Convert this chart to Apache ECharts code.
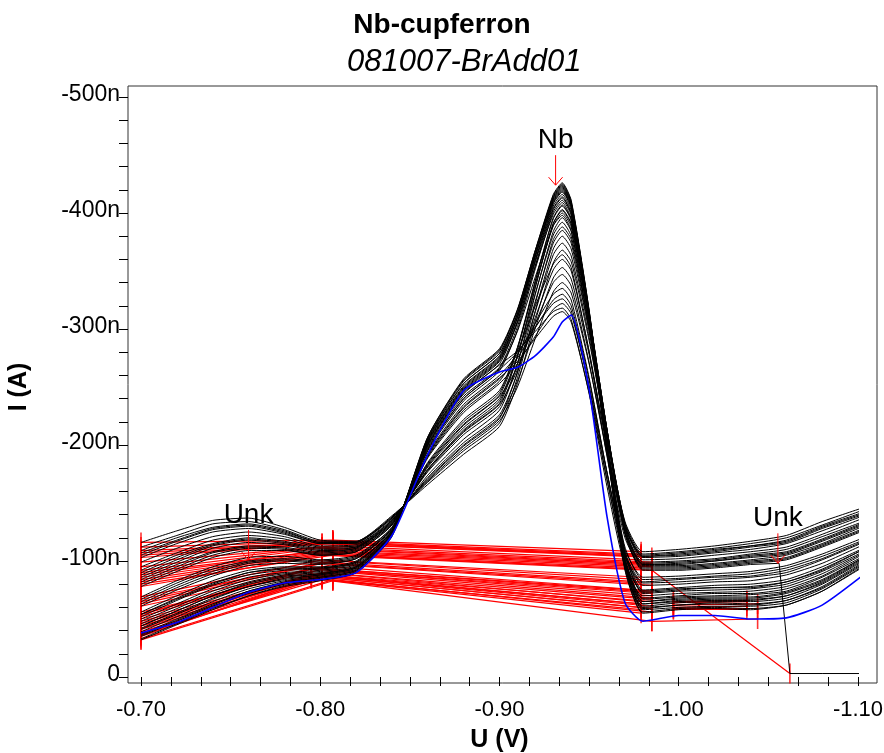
<!DOCTYPE html>
<html><head><meta charset="utf-8">
<script src="https://cdn.jsdelivr.net/npm/echarts@6/dist/echarts.min.js"></script>
<style>html,body{margin:0;padding:0;background:#fff}#c{width:884px;height:753px}</style>
</head><body><div id="c"></div>
<script>
// Potential grid (V)
const U = [-0.700,-0.720,-0.740,-0.760,-0.780,-0.800,-0.820,-0.840,-0.860,-0.880,-0.900,-0.910,-0.920,-0.930,-0.935,-0.940,-0.950,-0.960,-0.970,-0.980,-1.000,-1.020,-1.040,-1.060,-1.080,-1.103];
// Currents (nA) for each scan
const curve01 = [-35,-48,-61,-72,-80,-85,-91,-122,-206,-255,-281,-316,-368,-416,-426,-411,-316,-198,-95,-58,-60,-61,-61,-64,-76,-97];
const curve02 = [-39,-52,-65,-76,-83,-87,-93,-123,-204,-251,-277,-313,-366,-415,-425,-410,-316,-199,-97,-61,-64,-65,-65,-68,-80,-100];
const curve03 = [-32,-45,-58,-70,-78,-83,-90,-121,-207,-257,-283,-317,-368,-414,-424,-409,-313,-195,-92,-55,-58,-59,-58,-62,-74,-95];
const curve04 = [-44,-57,-70,-80,-86,-89,-95,-124,-202,-248,-274,-310,-363,-412,-422,-408,-315,-201,-101,-65,-67,-68,-68,-72,-83,-103];
const curve05 = [-37,-50,-63,-74,-82,-86,-92,-122,-205,-253,-279,-313,-364,-410,-420,-406,-312,-197,-96,-60,-62,-64,-63,-66,-78,-99];
const curve06 = [-48,-61,-74,-84,-89,-91,-96,-125,-200,-245,-270,-306,-359,-408,-418,-404,-313,-201,-103,-68,-70,-72,-72,-76,-87,-106];
const curve07 = [-41,-54,-67,-78,-84,-88,-94,-123,-203,-250,-276,-310,-360,-406,-416,-402,-310,-197,-98,-63,-65,-66,-66,-70,-81,-101];
const curve08 = [-52,-66,-79,-88,-92,-93,-98,-126,-198,-242,-267,-302,-355,-403,-413,-399,-311,-202,-106,-72,-74,-75,-76,-80,-91,-108];
const curve09 = [-56,-70,-83,-92,-95,-95,-100,-126,-195,-238,-264,-299,-352,-401,-411,-398,-310,-203,-109,-75,-77,-79,-80,-84,-95,-111];
const curve10 = [-46,-59,-72,-82,-88,-90,-95,-124,-200,-246,-272,-305,-354,-399,-409,-395,-306,-197,-101,-67,-69,-70,-71,-74,-86,-104];
const curve11 = [-82,-95,-107,-112,-111,-106,-109,-132,-183,-218,-243,-282,-341,-395,-406,-394,-312,-213,-125,-94,-94,-96,-99,-102,-113,-127];
const curve12 = [-90,-103,-114,-119,-116,-110,-112,-134,-179,-212,-236,-276,-336,-391,-403,-391,-311,-213,-128,-97,-98,-100,-104,-107,-118,-132];
const curve13 = [-78,-91,-103,-109,-109,-105,-108,-131,-185,-222,-247,-284,-339,-389,-400,-388,-308,-209,-123,-92,-92,-94,-97,null,null,null];
const curve14 = [-99,-111,-121,-125,-121,-113,-114,-135,-174,-205,-230,-270,-330,-384,-396,-384,-308,-213,-131,-101,-102,-105,-108,-112,-123,-137];
const curve15 = [-86,-99,-111,-116,-114,-108,-111,-133,-181,-215,-240,-277,-331,-381,-392,-380,-303,-208,-126,-96,-96,-98,-101,-105,-115,-130];
const curve16 = [-107,-118,-128,-131,-125,-116,-116,-137,-170,-199,-223,-263,-322,-377,-388,-377,-303,-212,-132,-104,-106,-109,-113,-117,-129,-141];
const curve17 = [-95,-107,-118,-122,-119,-112,-113,-135,-177,-209,-233,-270,-324,-374,-385,-374,-299,-208,-128,-99,-100,-102,-106,-110,-121,-134];
const curve18 = [-112,-122,-132,-134,-127,-117,-117,-138,-168,-195,-219,-258,-316,-369,-380,-369,-298,-210,-133,-106,-108,-111,-115,-120,-131,-144];
const curve19 = [-103,-115,-125,-128,-123,-115,-115,-136,-172,-202,-226,-262,-315,-364,-374,-363,-293,-206,-130,-103,-104,-107,-110,-115,-126,-139];
const curve20 = [-116,-126,-135,-137,-129,-118,-117,-139,-166,-192,-216,-253,-307,-357,-368,-358,-290,-207,-134,-108,-110,-113,-117,-122,-134,-146];
const curve21 = [-92,-105,-115,-120,-117,-111,-112,-134,-178,-211,-235,-265,-310,-351,-360,-350,-281,-198,-124,-98,-99,-101,-105,-108,-119,-133];
const curve22 = [-105,-117,-127,-130,-124,-115,-116,-137,-171,-200,-224,-255,-301,-344,-353,-343,-278,-199,-129,-104,-105,-108,-112,-116,-128,-140];
const curve23 = [-84,-97,-108,-113,-112,-107,-110,-132,-182,-217,-242,-267,-305,-340,-347,-337,-271,-191,-120,-95,-95,-97,-100,-103,-114,-128];
const curve24 = [-109,-120,-129,-132,-126,-116,-116,-138,-169,-197,-221,-250,-292,-332,-340,-331,-270,-194,-129,-105,-107,-110,-113,-118,-130,-142];
const curve25 = [-61,-75,-87,-96,-98,-97,-102,-127,-193,-235,-260,-278,-305,-330,-335,-325,-258,-176,-105,-79,-80,-82,-83,-88,-98,-114];
const curve26 = [-65,-79,-91,-99,-101,-99,-103,-128,-191,-232,-257,-275,-301,-325,-330,-320,-256,-176,-107,-82,-84,-86,-87,-92,-102,-117];
const curve27 = [-54,-68,-81,-90,-94,-94,-99,-126,-196,-240,-265,-280,-302,-322,-326,-316,-250,-170,-99,-74,-76,-77,-78,-82,-93,-110];
const curve28 = [-69,-83,-95,-103,-104,-101,-105,-129,-189,-228,-253,-270,-294,-317,-322,-313,-251,-176,-110,-86,-87,-89,-91,-96,-106,-120];
const curve29 = [-50,-63,-76,-86,-90,-92,-97,-125,-199,-244,-269,-281,-298,-315,-318,-308,-244,-164,-95,-70,-72,-73,-74,-78,-89,-107];
const curve30 = [-63,-77,-89,-98,-100,-98,-102,-128,-192,-233,-258,-272,-292,-311,-315,-306,-245,-170,-104,-81,-82,-84,-86,-90,-101,-116];
const curve31 = [-33,-46,-59,-70,-79,-84,-90,-122,-207,-256,-282,-316,-367,-413,-423,-408,-313,-195,-93,-56,-59,-60,-59,-62,-74,-96];
const curve32 = [-42,-55,-68,-78,-85,-88,-94,-123,-203,-249,-275,-310,-363,-411,-421,-407,-314,-199,-99,-63,-66,-67,-67,-70,-82,-102];
const curve33 = [-36,-49,-62,-74,-81,-86,-92,-122,-205,-253,-279,-313,-363,-409,-419,-405,-311,-196,-95,-59,-62,-63,-62,-66,-77,-98];
const curve34 = [-44,-57,-70,-81,-87,-89,-95,-124,-201,-247,-273,-307,-358,-404,-414,-400,-309,-198,-100,-65,-68,-69,-69,-73,-84,-103];
const curve35 = [-80,-93,-105,-111,-110,-105,-108,-131,-184,-220,-245,-284,-342,-396,-407,-394,-313,-212,-124,-93,-93,-95,-98,-101,-112,-126];
const curve36 = [-88,-101,-113,-118,-115,-109,-111,-133,-179,-213,-238,-277,-336,-391,-402,-390,-311,-213,-128,-97,-97,-100,-103,-106,-117,-131];
const curve37 = [-54,-67,-80,-90,-93,-94,-99,-126,-197,-240,-266,-298,-345,-389,-398,-385,-301,-197,-106,-73,-75,-77,-77,-82,-92,-110];
const curve38 = [-67,-81,-93,-100,-102,-100,-104,-129,-190,-230,-255,-281,-320,-356,-364,-353,-280,-190,-112,-84,-85,-87,-89,-94,-104,-118];
const curveBlue = [-38,-47,-60,-73,-81,-84,-90,-122,-192,-247,-263,-267,-277,-293,-306,-312,-248,-138,-64,-48,-53,-53,-50,-51,-62,-88];
// aborted scan (curve13) tail
const tailU = [-1.040,-1.056,-1.062,-1.080,-1.103];
const tailI = [-97,-98,-3,-3,-3];

// baseline end potentials per scan
const valleyX = [-0.795,-0.801,-0.807,-0.795,-0.801,-0.807,-0.801,-0.795,-0.807,-0.801,
                 -0.801,-0.807,-0.801,-0.807,-0.801,-0.807,-0.801,-0.807,-0.801,-0.807,
                 -0.801,-0.807,-0.801,-0.807,-0.807,-0.801,-0.795,-0.801,-0.807,-0.801,
                 -0.807,-0.795,-0.801,-0.807,-0.807,-0.801,-0.795,-0.807];
const endX = [-0.979,-0.985,-0.979,-0.985,-0.979,-0.985,-0.979,-0.985,-0.979,-0.985,
              -0.979,-0.985,-0.985,-0.979,-0.985,-0.979,-0.985,-0.979,-0.985,-0.979,
              -0.985,-0.979,-0.985,-0.979,-0.985,-0.979,-0.985,-0.979,-0.985,-0.979,
              -0.985,-0.979,-0.985,-0.979,-0.979,-0.985,-0.985,-0.979];
const blueValleyX = -0.801, blueEndX = -0.985;
// small peak baselines near -1.02 V
const rightIdx = [2,0,4,1,6,30];
const rightStartX = [-0.997,-0.997,-0.997,-0.997,-0.997,-0.997];
const rightEndX = [-1.038,-1.038,-1.044,-1.038,-1.038,-1.044];
const blueRightX = [-0.985,-1.044];
const abortedBaseX = [-0.985,-1.062];

// peak annotations
const annU = [-0.760,-0.9313,-1.0553];
const annI = [-101,-424,-98];
const annText = ['Unk','Nb','Unk'];

const xMajor = [-1.1,-1.0,-0.9,-0.8,-0.7];
const yMajor = [-500,-400,-300,-200,-100,0];

const curves = [curve01,curve02,curve03,curve04,curve05,curve06,curve07,curve08,curve09,curve10,
  curve11,curve12,curve13,curve14,curve15,curve16,curve17,curve18,curve19,curve20,
  curve21,curve22,curve23,curve24,curve25,curve26,curve27,curve28,curve29,curve30,
  curve31,curve32,curve33,curve34,curve35,curve36,curve37,curve38];

const FONT = "'Liberation Sans', Arial, sans-serif";
const series = [];
const iV = U.indexOf(-0.800), iE = U.indexOf(-0.980), iR0 = U.indexOf(-1.000), iR1 = U.indexOf(-1.040);

function lineSeries(vals, color, width) {
  return {type:'line', xAxisIndex:1, yAxisIndex:1, data: U.map((u,k)=>[u, vals[k]]),
    symbol:'none', smooth:0.2, clip:false, silent:true, connectNulls:false,
    lineStyle:{color:color, width:width}};
}
curves.forEach(c => series.push(lineSeries(c, '#000', 1)));
series.push({type:'line', xAxisIndex:1, yAxisIndex:1, data: tailU.map((u,k)=>[u, tailI[k]]),
  symbol:'none', smooth:false, clip:false, silent:true, lineStyle:{color:'#000', width:1}});
series.push(lineSeries(curveBlue, '#0000ff', 1.6));

const segs = [];
curves.forEach((c,i) => {
  segs.push([[U[0], c[0]], [valleyX[i], c[iV]]]);
  segs.push([[valleyX[i], c[iV]], [endX[i], c[iE]]]);
});
segs.push([[U[0], curveBlue[0]], [blueValleyX, curveBlue[iV]]]);
segs.push([[blueValleyX, curveBlue[iV]], [blueEndX, curveBlue[iE]]]);
rightIdx.forEach((ci,k) => {
  segs.push([[rightStartX[k], curves[ci][iR0]], [rightEndX[k], curves[ci][iR1]]]);
});
segs.push([[blueRightX[0], curveBlue[iE]], [blueRightX[1], curveBlue[iR1]]]);
segs.push([[abortedBaseX[0], curve13[iE]], [abortedBaseX[1], tailI[2]]]);

series.push({type:'lines', coordinateSystem:'cartesian2d', xAxisIndex:1, yAxisIndex:1, silent:true,
  data: segs.map(s => ({coords:s})), lineStyle:{color:'#ff0000', width:1.2, opacity:1}, clip:false});
const tickPts = [];
segs.forEach(s => { tickPts.push(s[0]); tickPts.push(s[1]); });
series.push({type:'scatter', xAxisIndex:1, yAxisIndex:1, data: tickPts, symbol:'rect', symbolSize:[1.6,20],
  itemStyle:{color:'#ff0000'}, silent:true, clip:false});

series.push({type:'custom', xAxisIndex:1, yAxisIndex:1, clip:false, silent:true, z:10,
  data: annU.map((u,k)=>[u, annI[k]]),
  renderItem: function(params, api) {
    const p = api.coord([api.value(0), api.value(1)]);
    return {type:'group', children:[
      {type:'line', shape:{x1:p[0], y1:p[1]-30, x2:p[0], y2:p[1]}, style:{stroke:'#ff0000', lineWidth:1}},
      {type:'polyline', shape:{points:[[p[0]-7,p[1]-8],[p[0],p[1]],[p[0]+7,p[1]-8]]}, style:{stroke:'#ff0000', fill:null, lineWidth:1}},
      {type:'text', x:p[0], y:p[1]-45, style:{text:annText[params.dataIndex], font:"28px " + FONT, fill:'#000', align:'center', verticalAlign:'middle'}}
    ]};
  }});

const chart = echarts.init(document.getElementById('c'), null, {renderer:'canvas'});
chart.setOption({
  animation:false,
  backgroundColor:'#fff',
  textStyle:{fontFamily:FONT},
  title:[
    {text:'Nb-cupferron', left:'center', top:6,
      textStyle:{fontSize:28, fontWeight:'bold', color:'#000', fontFamily:FONT}},
    {text:'081007-BrAdd01', left:342, top:42,
      textStyle:{fontSize:31, fontWeight:'normal', fontStyle:'italic', color:'#000', fontFamily:FONT}}
  ],
  grid:[
    {left:128, top:86, width:749, height:597, show:true, borderColor:'#333', borderWidth:1, backgroundColor:'transparent', outerBoundsMode:'none', containLabel:false},
    {left:141, top:97, width:717, height:580, outerBoundsMode:'none', containLabel:false}
  ],
  xAxis:[
    {gridIndex:0, type:'value', show:false, min:0, max:1},
    {gridIndex:1, type:'value', min:-1.1, max:-0.7, inverse:true, interval:0.1, offset:6,
      axisLine:{show:false}, splitLine:{show:false},
      axisTick:{show:true, length:9, lineStyle:{color:'#000'}},
      minorTick:{show:true, splitNumber:6, length:9, lineStyle:{color:'#000'}},
      axisLabel:{formatter:v => (xMajor.some(m=>Math.abs(m-v)<1e-6) ? v.toFixed(2) : ''), fontSize:22, color:'#000', margin:16, fontFamily:FONT},
      name:'U (V)', nameLocation:'middle', nameGap:45,
      nameTextStyle:{fontWeight:'bold', fontSize:25, color:'#000', fontFamily:FONT}}
  ],
  yAxis:[
    {gridIndex:0, type:'value', show:false, min:0, max:1},
    {gridIndex:1, type:'value', min:-500, max:0, inverse:true, interval:100, offset:13,
      axisLine:{show:false}, splitLine:{show:false},
      axisTick:{show:true, length:9, lineStyle:{color:'#000'}},
      minorTick:{show:true, splitNumber:5, length:9, lineStyle:{color:'#000'}},
      axisLabel:{formatter:v => (yMajor.indexOf(Math.round(v))>=0 ? (Math.round(v)===0 ? '0' : Math.round(v)+'n') : ''),
        fontSize:23, color:'#000', margin:8, verticalAlign:'bottom', lineHeight:4, fontFamily:FONT},
      name:'I (A)', nameLocation:'middle', nameGap:96, nameRotate:90,
      nameTextStyle:{fontWeight:'bold', fontSize:25, color:'#000', fontFamily:FONT}}
  ],
  series: series
});
</script></body></html>
